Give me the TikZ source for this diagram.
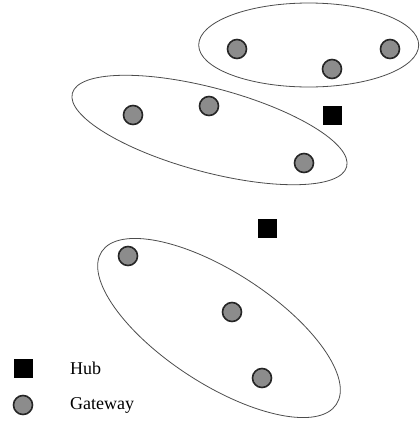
\documentclass[tikz,border=0pt]{standalone}
\usepackage{fontspec}
\setmainfont{Liberation Serif}
\begin{document}
\begin{tikzpicture}[x=1pt,y=-1pt,
  gateway/.style={circle,draw=black!85,line width=1.6pt,fill=black!45,minimum size=19pt,inner sep=0pt},
  hub/.style={rectangle,fill=black,minimum size=19pt,inner sep=0pt},
  cluster/.style={draw=black!70,line width=0.8pt},
  legendtext/.style={anchor=west,font=\fontsize{18}{21}\selectfont,inner sep=0pt}]
  \useasboundingbox (0,0) rectangle (420,421);

  % groups of gateways
  \draw[cluster] (308.7,45) ellipse (110 and 42);
  \draw[cluster,rotate around={-15:(209.5,130)}] (209.5,130) ellipse (142 and 42);
  \draw[cluster,rotate around={-33:(219,328)}] (219,328) ellipse (140 and 56);

  % gateways
  \node[gateway] (g1) at (237,49) {};
  \node[gateway] (g2) at (332,69) {};
  \node[gateway] (g3) at (390,49) {};
  \node[gateway] (g4) at (133,115) {};
  \node[gateway] (g5) at (209,106) {};
  \node[gateway] (g6) at (304,163) {};
  \node[gateway] (g7) at (128,256) {};
  \node[gateway] (g8) at (232,312) {};
  \node[gateway] (g9) at (262,378) {};

  % hubs
  \node[hub] (h1) at (332.5,115) {};
  \node[hub] (h2) at (267,228) {};

  % legend
  \node[hub] (lh) at (23,368) {};
  \node[gateway] (lg) at (23,405) {};
  \node[legendtext] (lht) at (70,368) {Hub};
  \node[legendtext] (lgt) at (70,405) {Gateway};
\end{tikzpicture}
\end{document}
